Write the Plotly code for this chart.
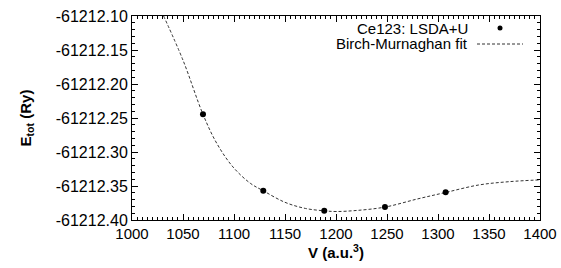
import plotly.graph_objects as go

# DFT data points (Ce123: LSDA+U)
vol_data = [1069.6, 1128.7, 1188.5, 1248.0, 1307.5]
etot_data = [-61212.2446, -61212.357, -61212.3863, -61212.381, -61212.3593]

# Birch-Murnaghan fit curve
vol_fit = [1031, 1050, 1069.6, 1083, 1099, 1116, 1128.7, 1150, 1170, 1188.5,
           1200, 1220, 1248, 1280, 1307.5, 1340, 1370, 1400]
etot_fit = [-61212.100, -61212.165, -61212.2446, -61212.287, -61212.322, -61212.346,
            -61212.357, -61212.374, -61212.383, -61212.3865, -61212.3875, -61212.386,
            -61212.381, -61212.369, -61212.3595, -61212.3485, -61212.3436, -61212.341]

xticks = [1000, 1050, 1100, 1150, 1200, 1250, 1300, 1350, 1400]
yticks = [-61212.40, -61212.35, -61212.30, -61212.25, -61212.20, -61212.15, -61212.10]

legend_labels = ["Ce123: LSDA+U", "Birch-Murnaghan fit"]

FONT = "Liberation Sans, Arial, sans-serif"

fig = go.Figure()
fig.add_trace(go.Scatter(x=vol_fit, y=etot_fit, mode="lines", line_shape="spline",
                         line=dict(color="#333333", width=1, dash="3px,2px"),
                         name=legend_labels[1], showlegend=False))
fig.add_trace(go.Scatter(x=vol_data, y=etot_data, mode="markers",
                         marker=dict(color="black", size=6),
                         name=legend_labels[0], showlegend=False))

axis_common = dict(showgrid=False, zeroline=False, showline=True, linecolor="black",
                   linewidth=1, ticks="inside", mirror="ticks", ticklen=6, tickcolor="black",
                   automargin=False)

fig.update_xaxes(range=[1000, 1400], tickvals=xticks, ticktext=[str(v) for v in xticks],
                 tickfont=dict(family=FONT, size=15, color="black"),
                 minor=dict(ticks="inside", dtick=5, ticklen=3, tickcolor="black"),
                 title=dict(text="<b>V (a.u.<sup>3</sup>)</b>",
                            font=dict(family=FONT, size=15, color="black"), standoff=3),
                 **axis_common)
fig.update_yaxes(range=[-61212.40, -61212.10], tickvals=yticks,
                 ticktext=["%.2f" % v for v in yticks],
                 tickfont=dict(family=FONT, size=16, color="black"),
                 minor=dict(ticks="inside", dtick=0.01, ticklen=3, tickcolor="black"),
                 title=dict(text="<b>E<sub>tot</sub> (Ry)</b>",
                            font=dict(family=FONT, size=15, color="black"), standoff=20),
                 **axis_common)

W, H = 561, 268
L, R, T, B = 132, 21, 16, 48
pw, ph = W - L - R, H - T - B

def px(xp):
    return (xp - L) / pw

def py(yp):
    return 1 - (yp - T) / ph

# gnuplot-style legend (text left, sample right)
fig.add_annotation(x=px(470), y=py(28), xref="paper", yref="paper", text=legend_labels[0],
                   showarrow=False, xanchor="right", yanchor="middle",
                   font=dict(family=FONT, size=15, color="black"))
fig.add_annotation(x=px(470), y=py(44), xref="paper", yref="paper", text=legend_labels[1],
                   showarrow=False, xanchor="right", yanchor="middle",
                   font=dict(family=FONT, size=15, color="black"))

fig.add_shape(type="circle", xref="paper", yref="paper",
              x0=px(497.5), x1=px(502.5), y0=py(30.5), y1=py(25.5),
              fillcolor="black", line=dict(color="black", width=0))
fig.add_shape(type="line", xref="paper", yref="paper",
              x0=px(477), x1=px(523), y0=py(44), y1=py(44),
              line=dict(color="#333333", width=1, dash="3px,2px"))

fig.update_layout(width=W, height=H, margin=dict(l=L, r=R, t=T, b=B, autoexpand=False),
                  plot_bgcolor="white", paper_bgcolor="white",
                  font=dict(family=FONT, color="black"))

fig.write_html("out.html", config={"displayModeBar": False},
               post_script="document.body.style.margin='0';")
